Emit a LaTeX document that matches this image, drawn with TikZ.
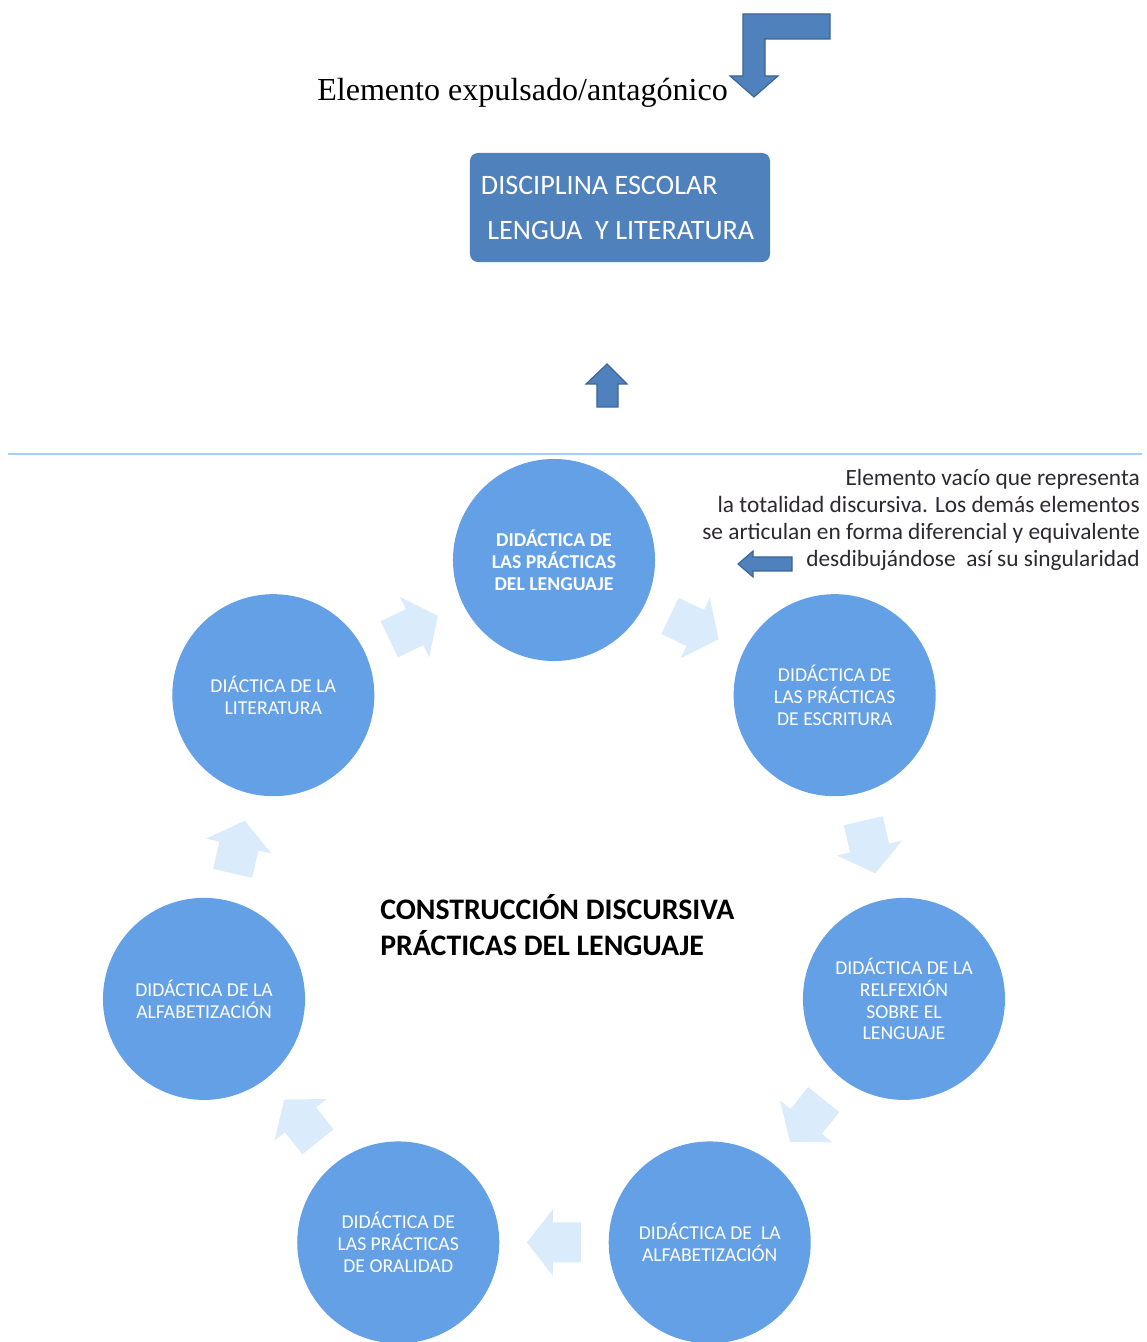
\documentclass[tikz,border=0pt]{standalone}
\usepackage{fontspec}
\setmainfont{Liberation Serif}
\newfontfamily\calibri{Carlito}
\usetikzlibrary{calc}

\definecolor{boxblue}{RGB}{79,129,189}
\definecolor{boxedge}{RGB}{60,100,150}
\definecolor{ringblue}{RGB}{99,160,230}
\definecolor{flowblue}{RGB}{218,235,252}
\definecolor{ruleblue}{RGB}{166,207,247}
\definecolor{notegray}{RGB}{45,40,50}

\begin{document}
\begin{tikzpicture}[
            x=0.025cm, y=0.025cm,
            stage/.style={circle, fill=ringblue, minimum size=5.05cm, inner sep=0pt,
                text=white, align=center, font=\calibri\fontsize{14}{15.6}\selectfont},
            flow/.style={fill=flowblue},
            block/.style={fill=boxblue, draw=boxedge, line width=0.8pt}
        ]
            \useasboundingbox (-554,-423) rectangle (592,919);

            % parte superior
            \node[anchor=base east, inner sep=0pt, font=\fontsize{22.8}{26}\selectfont]
                (expul) at (174,818) {Elemento expulsado/antagónico};
            \draw[block] (276,905) -- (189,905) -- (189,843) -- (176,843) -- (200,822)
                -- (224,843) -- (211,843) -- (211,880) -- (276,880) -- cycle;
            \node[fill=boxblue, rounded corners=0.2cm, minimum width=7.5cm, minimum height=2.725cm]
                (disc) at (66,711.5) {};
            \node[anchor=west, align=left, inner sep=0pt, text=white,
                font=\calibri\fontsize{20}{32}\selectfont]
                (disctxt) at ([xshift=0.275cm]disc.west) {DISCIPLINA ESCOLAR\\\ LENGUA\ \ Y LITERATURA};
            \draw[block] (53,555) -- (73,535) -- (64,535) -- (64,512) -- (43,512) -- (43,535)
                -- (32,535) -- cycle;
            \draw[ruleblue, line width=2.1pt] (-546,465) -- (588,465);

            % anillo de didacticas
            \node[stage, font=\calibri\bfseries\fontsize{14}{15.6}\selectfont]
                (prac) at (90:359) {DIDÁCTICA DE\\LAS PRÁCTICAS\\DEL LENGUAJE};
            \node[stage] (escr) at (38.57:359) {DIDÁCTICA DE\\LAS PRÁCTICAS\\DE ESCRITURA};
            \node[stage] (refl) at (-12.86:359) {DIDÁCTICA DE LA\\RELFEXIÓN\\SOBRE EL\\LENGUAJE};
            \node[stage] (alfa) at (-64.29:359) {DIDÁCTICA DE\ \ LA\\ALFABETIZACIÓN};
            \node[stage] (oral) at (-115.71:359) {DIDÁCTICA DE\\LAS PRÁCTICAS\\DE ORALIDAD};
            \node[stage] (alfb) at (-167.14:359) {DIDÁCTICA DE LA\\ALFABETIZACIÓN};
            \node[stage] (lite) at (141.43:359) {DIÁCTICA DE LA\\LITERATURA};

            % flechas claras entre didacticas
            \foreach \from/\to/\dir in {prac/escr/-25.71, escr/refl/-77.14, refl/alfa/-128.57,
                    alfa/oral/180, oral/alfb/128.57, alfb/lite/77.14, lite/prac/25.71}
                \fill[flow, shift={($(\from)!.5!(\to)$)}, rotate=\dir]
                    (-27,-20) -- (1,-20) -- (1,-33.5) -- (27,0) -- (1,33.5) -- (1,20)
                    -- (-27,20) -- cycle;

            \node[anchor=west, align=left, inner sep=0pt,
                font=\calibri\bfseries\fontsize{21.2}{26}\selectfont]
                (centro) at (-174,-6) {CONSTRUCCIÓN DISCURSIVA\\PRÁCTICAS DEL LENGUAJE};

            % nota lateral
            \node[anchor=north east, align=right, inner sep=0pt, text=notegray,
                font=\calibri\fontsize{16.6}{19.3}\selectfont]
                (vacio) at (586,450) {Elemento vacío que representa\\
                la totalidad discursiva. Los demás elementos\\
                se articulan en forma diferencial y equivalente\\
                desdibujándose\ \ así su singularidad};
            \draw[block] (184,355) -- (199,368) -- (199,362) -- (238,362) -- (238,348)
                -- (199,348) -- (199,342) -- cycle;
        \end{tikzpicture}
\end{document}
